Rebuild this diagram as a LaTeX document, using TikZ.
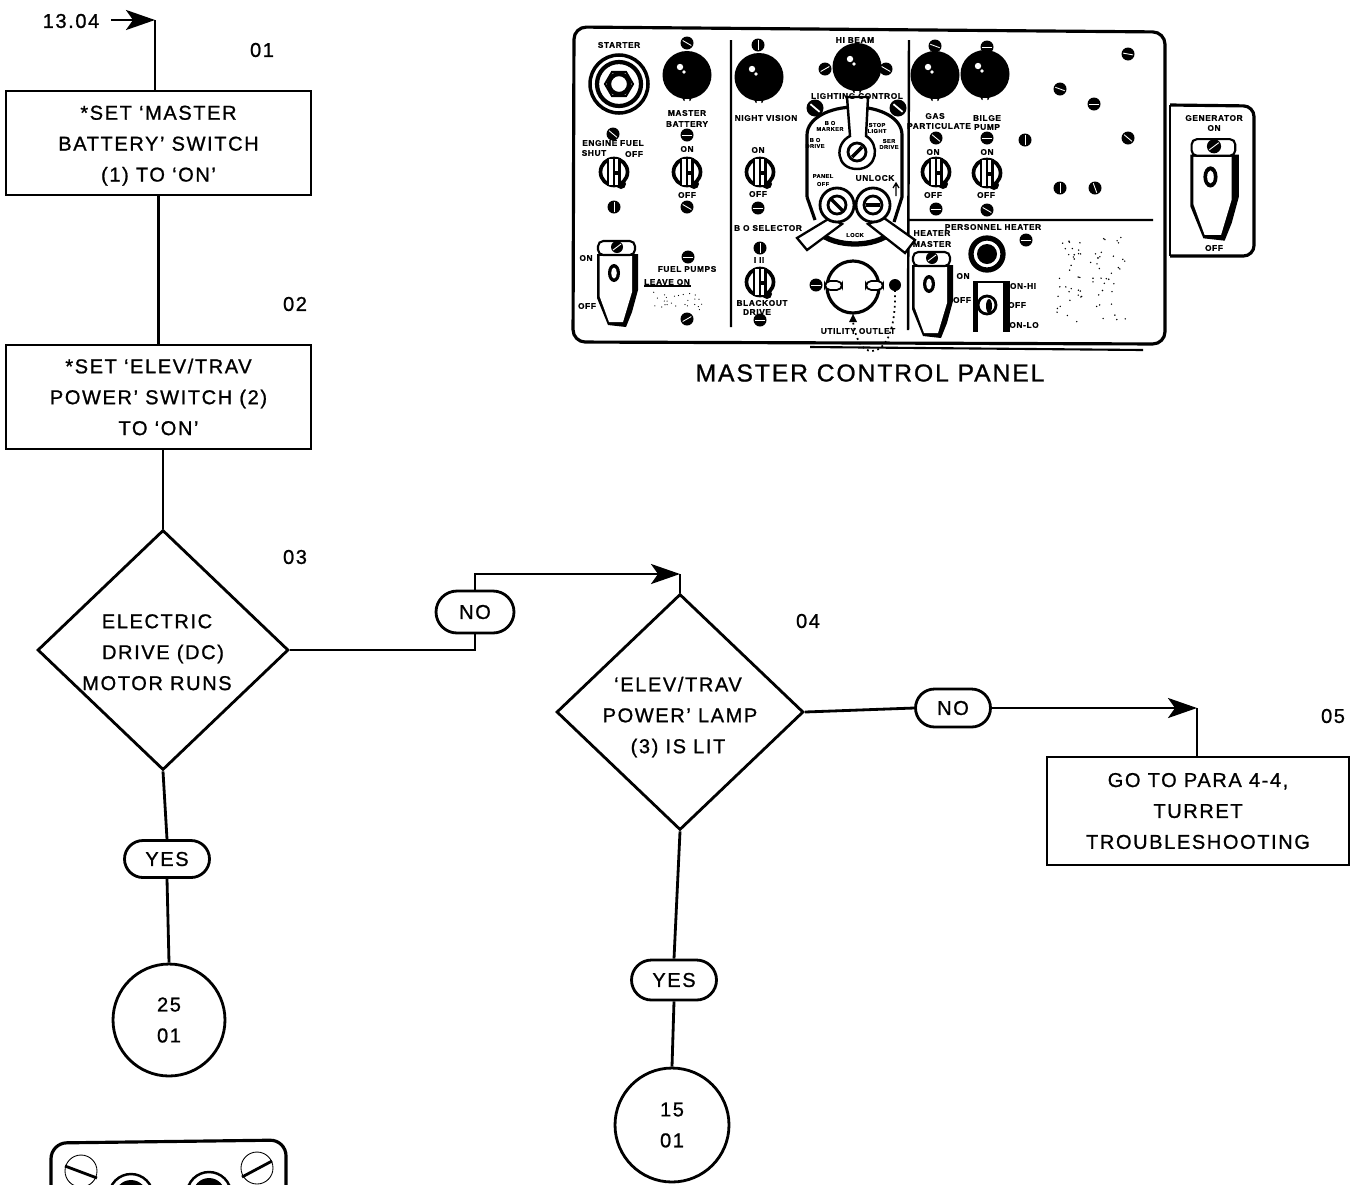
\documentclass[tikz,border=0pt]{standalone}
\usepackage{fontspec}
\setmainfont[LetterSpace=8,FakeBold=1]{Liberation Sans}
\usetikzlibrary{positioning,arrows.meta,shapes,calc}

% panel hardware, all sizes in picture units
\newcommand{\blackknob}[3]{%
  \fill (#1,#2+#3-2) circle[radius=5];
  \fill[white] (#1,#2+#3+1) circle[radius=2.5];
  \fill (#1,#2) ellipse[x radius=#3+.5,y radius=#3];
  \fill[white] (#1-7,#2-8) circle[radius=3.2];
  \fill[white] (#1-3,#2-3) circle[radius=1.8];
}
\newcommand{\rotsw}[2]{%
  \fill (#1+7,#2+12) circle[radius=5];
  \draw[line width=2.1pt,fill=white] (#1,#2) circle[radius=13.5];
  \fill (#1-7,#2-14) rectangle (#1+7,#2+14);
  \fill[white] (#1-5,#2-13) rectangle (#1-1,#2+13);
  \fill[white] (#1+1,#2-13) rectangle (#1+4,#2-1);
  \fill[white] (#1+1,#2+3) rectangle (#1+4,#2+13);
}
\newcommand{\guardsw}[3]{%
  \begin{scope}[shift={(#1,#2)},scale=#3]
    \fill (-20,14) -- (-20,58) -- (-9,85) -- (9,87) -- (15,72) -- (21,50) -- (21,14) -- cycle;
    \fill[white] (-17.5,16) -- (15,16) -- (15,52) -- (6,82) -- (-8,82) -- (-17.5,56) -- cycle;
    \draw[line width=1.2pt,fill=white,rounded corners=3] (-19,15) -- (-19,1) -- (18,1) -- (18,15) -- cycle;
    \fill (0,7) circle[radius=6];
    \draw[white,line width=.5pt] (-4,10) -- (4,4);
    \fill (-3,33) ellipse[x radius=6,y radius=9];
    \fill[white] (-3,33) ellipse[x radius=2.8,y radius=5.5];
  \end{scope}
}

\begin{document}
\begin{tikzpicture}[x=0.02cm,y=-0.02cm,
    font=\fontsize{11.4pt}{17.6pt}\selectfont,
    ln/.style={line width=1.6pt},
    arr/.style={-{Stealth[length=0.58cm,width=0.4cm,inset=0.14cm]},line width=1.6pt},
    box/.style={rectangle,draw,line width=1.6pt,minimum width=6.1cm,
                minimum height=2.08cm,align=center,inner sep=0pt},
    dec/.style={diamond,draw,line width=1.6pt,align=center,inner sep=-0.2cm},
    pill/.style={rounded rectangle,draw,line width=1.6pt,minimum height=0.8cm,inner sep=0pt},
    term/.style={circle,draw,line width=1.6pt,align=center,inner sep=0pt},
    lbl/.style={inner sep=0pt},
    tag/.style={inner sep=0pt,font=\fontsize{4.7pt}{5.5pt}\selectfont\bfseries}]
  \useasboundingbox (0,0) rectangle (1354,1184);

  % flow chart
  \node[lbl] (refIn) at (71,21) {13.04};
  \node[lbl] (stepA) at (262,50) {01};
  \node[lbl] (stepB) at (295,304) {02};
  \node[lbl] (stepC) at (295,557) {03};
  \node[lbl] (stepD) at (808,621) {04};
  \node[lbl] (stepE) at (1333,716) {05};
  \node[box] (boxMaster) at (158.5,143) {\rule{0pt}{11pt}*SET ‘MASTER\\BATTERY’ SWITCH\\(1) TO ‘ON’};
  \node[box] (boxElev) at (158.5,397) {*SET ‘ELEV/TRAV\\POWER’ SWITCH (2)\\TO ‘ON’};
  \node[dec,minimum width=5.02cm,minimum height=4.8cm] (decMotor) at (163,650)
       {\rule{0pt}{10.5pt}ELECTRIC\hspace*{0.24cm}\\DRIVE (DC)\hspace*{0.24cm}\\MOTOR RUNS\hspace*{0.24cm}};
  \node[dec,minimum width=4.94cm,minimum height=4.72cm] (decLamp) at (680,712)
       {\rule{0pt}{14pt}‘ELEV/TRAV\hspace*{0.08cm}\\POWER’ LAMP\hspace*{0.08cm}\\(3) IS LIT\hspace*{0.08cm}};
  \node[pill,minimum width=1.56cm,minimum height=0.84cm] (noMotor) at (475,612) {NO};
  \node[pill,minimum width=1.5cm,minimum height=0.76cm] (noLamp) at (953,708) {NO};
  \node[pill,minimum width=1.7cm,minimum height=0.74cm] (yesMotor) at (167,859) {YES};
  \node[pill,minimum width=1.7cm,minimum height=0.8cm] (yesLamp) at (674,980) {YES};
  \node[box,minimum width=6.04cm,minimum height=2.16cm] (boxPara) at (1198,811)
       {GO TO PARA 4-4,\\TURRET\\TROUBLESHOOTING};
  \node[term,minimum size=2.24cm] (termA) at (169,1020) {25\\01};
  \node[term,minimum size=2.28cm] (termB) at (672,1125) {15\\01};
  \coordinate (inStub) at (111,20);
  \coordinate (inTurn) at (155,20);
  \coordinate (noTurn) at (680,574);
  \coordinate (paraTurn) at (1197,708);
  \draw[arr] (inStub) -- (inTurn);
  \draw[ln] (inTurn) -- (inTurn |- boxMaster.north);
  \draw[ln] (boxMaster) -- (boxElev);
  \draw[ln] (decMotor.north |- boxElev.south) -- (decMotor.north);
  \draw[ln] (decMotor.east) -| (noMotor.south);
  \draw[arr] (noMotor.north) |- (noTurn);
  \draw[ln] (noTurn) -- (decLamp.north);
  \draw[ln] (decLamp.east) -- (noLamp.west);
  \draw[arr] (noLamp.east) -- (paraTurn);
  \draw[ln] (paraTurn) -- (paraTurn |- boxPara.north);
  \draw[ln] (decMotor.south) -- (yesMotor.north);
  \draw[ln] (yesMotor.south) -- (termA.north);
  \draw[ln] (decLamp.south) -- (yesLamp.north);
  \draw[ln] (yesLamp.south) -- (termB.north);

  % master control panel
  \draw[line width=1.8pt,rounded corners=7pt] (574,27) -- (1165,32) -- (1165,344) -- (573,342) -- cycle;
  \draw[line width=1.2pt] (810,347) -- (1143,350);
  \draw[line width=1.4pt] (731,40) -- (731,327) (909,40) -- (908,330) (909,220) -- (1153,220);
  \draw[line width=1.8pt,rounded corners=6pt] (1170,105) -- (1254,106) -- (1254,256) -- (1170,256);
  \draw[line width=.8pt] (1170,105) -- (1170,256);
  \node[lbl,font=\fontsize{14pt}{16pt}\selectfont] (panelName) at (870,373) {MASTER CONTROL PANEL};

  % starter
  \draw[line width=2pt] (619,84) circle[radius=29];
  \draw[line width=2.4pt] (619,84) circle[radius=22];
  \draw[line width=1.2pt] (633,84) -- (626,72) -- (612,72) -- (605,84) -- (612,96) -- (626,96) -- cycle;
  \draw[line width=2.4pt] (619,84) circle[radius=10];

  % knobs and rotary switches
  \foreach \kx/\ky in {687/75,759/77,857/67,935/75,985/74} { \blackknob{\kx}{\ky}{24} }
  \foreach \rx/\ry in {614/172,687/172,760/172,760/282,936/172,987/173} { \rotsw{\rx}{\ry} }

  % guarded switches
  \guardsw{617}{240}{1}
  \guardsw{932}{251}{1}
  \guardsw{1214}{138}{1.18}

  % lighting control dial
  \draw[line width=1.8pt] (807,197) -- (807,135) .. controls (807,118) and (830,107) .. (855,107)
       .. controls (880,107) and (902,118) .. (902,135) -- (902,197) -- (894,222);
  \draw[line width=1.8pt] (807,197) -- (815,220);
  \draw[line width=3pt] (818,232) .. controls (835,248) and (875,248) .. (892,232);
  \draw[line width=1.4pt,fill=white] (847,97) -- (868,97) -- (866,136) .. controls (880,144) and (878,169) .. (857,169)
       .. controls (836,169) and (834,144) .. (850,136) -- cycle;
  \draw[line width=1.6pt] (857,152) circle[radius=9];
  \draw[line width=2pt] (852,157) -- (862,147);
  \draw[line width=1.3pt,fill=white] (830,218) -- (797,238) -- (807,250) -- (842,224) -- cycle;
  \draw[line width=1.3pt,fill=white] (884,218) -- (915,240) -- (905,253) -- (868,224) -- cycle;
  \draw[line width=1.6pt,fill=white] (837,205) circle[radius=17];
  \draw[line width=1.6pt,fill=white] (873,205) circle[radius=17];
  \draw[line width=1.6pt] (837,205) circle[radius=9];
  \draw[line width=1.6pt] (873,205) circle[radius=9];
  \draw[line width=2pt] (831,199) -- (843,211);
  \draw[line width=2pt] (866,205) -- (880,205);
  \draw[line width=.7pt] (896,184) -- (896,196) (893,188) -- (896,183) -- (899,188);

  % utility outlet
  \draw[line width=1.8pt] (853,287) circle[radius=26];
  \fill (853,314) -- (849,322) -- (857,322) -- cycle;
  \draw[line width=1pt,fill=white,rounded corners=3pt] (825,281) rectangle (842,290);
  \draw[line width=1pt,fill=white,rounded corners=3pt] (866,281) rectangle (883,290);
  \fill (895,285) circle[radius=6];
  \draw[dotted,line width=1pt] (895,290) .. controls (896,325) and (888,350) .. (872,351)
       .. controls (862,351) and (856,340) .. (853,322);

  % personnel heater
  \draw[line width=3pt] (987,254) circle[radius=16];
  \fill (987,254) circle[radius=10];
  \fill (973,282) rectangle (978,332);
  \fill (1003,282) rectangle (1010,332);
  \draw[line width=1pt] (973,282) -- (1010,282);
  \draw[line width=1.6pt] (987,305) circle[radius=9];
  \fill (989,306) ellipse[x radius=3,y radius=7];

  % screws
  \foreach \sx/\sy/\sa in {687/43/30,758/45/90,935/46/20,987/47/0,1128/54/10,1060/89/20,
      1094/104/0,1128/138/40,1025/140/90,1060/188/90,1095/188/70,936/138/40,987/138/0,
      936/209/0,987/210/30,1026/240/0,687/135/0,687/207/30,613/134/40,614/207/90,
      758/208/0,760/248/90,688/257/0,687/319/150,760/320/0,816/285/0,
      825/69/150,886/69/30}
  {
    \fill (\sx,\sy) circle[radius=6.5];
    \draw[white,line width=.5pt] ($(\sx,\sy)+(\sa:5)$) -- ($(\sx,\sy)+(\sa+180:5)$);
  }
  \foreach \sx/\sy in {815/108,898/108}
  {
    \fill (\sx,\sy) circle[radius=8.5];
    \draw[white,line width=1pt] ($(\sx,\sy)+(40:6)$) -- ($(\sx,\sy)+(220:6)$);
  }

  % printed small lettering on the panel
  \foreach \tx/\ty/\tt [count=\ti] in {619/45/STARTER,687/113/MASTER,687/124/BATTERY,
      613/143/ENGINE  FUEL,594/153/SHUT,634/154/OFF,687/149/ON,687/195/OFF,
      766/118/NIGHT VISION,758/150/ON,758/194/OFF,768/228/B O SELECTOR,759/260/I  II,
      762/303/BLACKOUT,757/312/DRIVE,687/269/FUEL PUMPS,667/282/LEAVE ON,586/258/ON,
      587/306/OFF,858/331/UTILITY OUTLET,855/40/HI BEAM,857/96/LIGHTING   CONTROL,
      935/116/GAS,939/126/PARTICULATE,987/118/BILGE,987/127/PUMP,933/152/ON,933/195/OFF,
      987/152/ON,986/195/OFF,932/233/HEATER,932/244/MASTER,993/227/PERSONNEL HEATER,
      963/276/ON,962/300/OFF,1023/286/ON-HI,1017/305/OFF,1024/325/ON-LO,
      1214/118/GENERATOR,1214/128/ON,1214/248/OFF,875/178/UNLOCK}
    \node[tag] (tag\ti) at (\tx,\ty) {\tt};
  \foreach \tx/\ty/\tt [count=\ti] in {823/176/PANEL,823/184/OFF,815/140/B O,815/146/DRIVE,
      830/123/B O,830/129/MARKER,877/125/STOP,877/131/LIGHT,889/141/SER,889/147/DRIVE,855/235/LOCK}
    \node[tag,font=\fontsize{3.2pt}{4pt}\selectfont\bfseries] (dial\ti) at (\tx,\ty) {\tt};
  \draw[line width=.6pt] (644,286) -- (691,286);
  \pgfmathsetseed{11}
  \foreach \i in {1,...,70}
  {
    \pgfmathsetmacro\dx{1057+70*rnd}
    \pgfmathsetmacro\dy{237+86*rnd}
    \fill (\dx,\dy) circle[radius=.8];
  }
  \foreach \i in {1,...,26}
  {
    \pgfmathsetmacro\dx{653+57*rnd}
    \pgfmathsetmacro\dy{292+18*rnd}
    \fill (\dx,\dy) circle[radius=.6];
  }

  % lower plate, cut by the page edge
  \begin{scope}
    \clip (0,1100) rectangle (1354,1184);
    \draw[line width=1.8pt,rounded corners=9pt] (51,1190) -- (51,1143) -- (286,1140) -- (286,1190);
    \draw[line width=.5pt] (81,1171) circle[radius=16] (257,1168) circle[radius=16];
    \draw[line width=1.6pt] (65,1166) -- (97,1178) (242,1177) -- (272,1161);
    \draw[line width=1.4pt] (131,1196) circle[radius=22] (209,1194) circle[radius=22];
    \fill (131,1196) circle[radius=16] (209,1194) circle[radius=16];
  \end{scope}
\end{tikzpicture}
\end{document}
